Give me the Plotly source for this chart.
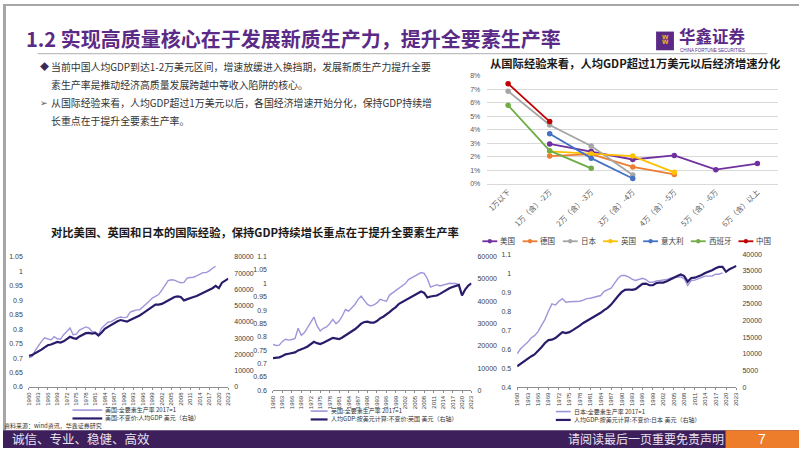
import plotly.graph_objects as go

W, H = 802, 451


def px(x):
    return x / W


def py(y):
    return 1 - y / H


# ---------------- data: top-right chart ----------------
bands = ["1万以下", "1万（含）-2万", "2万（含）-3万", "3万（含）-4万",
         "4万（含）-5万", "5万（含）-6万", "6万（含）以上"]
growth_us = [None, 0.0295, 0.024, 0.018, 0.021, 0.0105, 0.015]
growth_de = [None, 0.0205, 0.022, 0.0125, 0.007, None, None]
growth_jp = [0.0685, 0.0435, 0.028, 0.0065, None, None, None]
growth_uk = [None, 0.024, 0.022, 0.0205, 0.0085, None, None]
growth_it = [None, 0.037, 0.019, 0.004, None, None, None]
growth_es = [0.058, 0.0245, 0.0115, None, None, None, None]
growth_cn = [0.074, 0.046, None, None, None, None, None]
country_names = ["美国", "德国", "日本", "英国", "意大利", "西班牙", "中国"]
country_colors = ["#7030A0", "#ED7D31", "#A5A5A5", "#FFC000", "#4472C4", "#70AD47", "#C00000"]

# ---------------- data: bottom charts ----------------
years = list(range(1960, 2024))
year_ticks = years[::3]

us_tfp = [0.701, 0.706, 0.726, 0.743, 0.758, 0.770, 0.766, 0.763, 0.774, 0.767,
          0.765, 0.781, 0.792, 0.804, 0.781, 0.783, 0.797, 0.803, 0.808, 0.804,
          0.792, 0.790, 0.781, 0.804, 0.815, 0.824, 0.826, 0.832, 0.839, 0.842,
          0.840, 0.842, 0.859, 0.863, 0.867, 0.867, 0.876, 0.886, 0.897, 0.908,
          0.914, 0.920, 0.935, 0.954, 0.968, 0.971, 0.970, 0.965, 0.961, 0.962,
          0.977, 0.979, 0.980, 0.985, 0.990, 0.996, 0.996, 1.002, 1.011, 1.018]
us_gdp = [19200, 19600, 20800, 21800, 23000, 24400, 25700, 26100, 27100, 27700,
          27300, 28100, 29500, 30900, 30100, 29700, 31100, 32100, 33100, 33300,
          32900, 33300, 31700, 33500, 35800, 37000, 38200, 39200, 40400, 41200,
          40800, 40200, 41200, 42000, 43200, 44000, 45300, 46700, 48100, 49500,
          50700, 50700, 51100, 52100, 53300, 54500, 55400, 55800, 55400, 53300,
          54100, 54500, 55400, 56000, 57000, 58000, 58600, 59600, 60800, 62200,
          60800, 64200, 65300, 66700]

uk_tfp = [0.772, 0.768, 0.769, 0.783, 0.791, 0.788, 0.790, 0.794, 0.832, 0.806,
          0.816, 0.837, 0.853, 0.874, 0.841, 0.822, 0.832, 0.837, 0.849, 0.865,
          0.849, 0.859, 0.878, 0.902, 0.896, 0.909, 0.921, 0.940, 0.952, 0.936,
          0.921, 0.915, 0.919, 0.927, 0.940, 0.936, 0.933, 0.956, 0.964, 0.974,
          0.983, 0.991, 0.999, 1.014, 1.020, 1.025, 1.032, 1.040, 1.037, 1.017,
          0.986, 0.991, 0.995, 0.990, 0.994, 0.998, 1.000, 0.999, 0.999, 0.995]
uk_gdp = [14500, 14670, 14810, 15410, 16150, 16440, 16590, 17040, 17930, 18370,
          18960, 19700, 20590, 21780, 21180, 20740, 21330, 21930, 22810, 23550,
          23110, 22960, 23700, 24590, 25330, 26220, 27400, 28590, 29920, 30660,
          30810, 30370, 30370, 31110, 32290, 33030, 33920, 35110, 36290, 37330,
          38810, 39550, 40290, 41330, 42070, 42810, 43550, 44290, 43700, 41630,
          42070, 42370, 42520, 43260, 44150, 45030, 45770, 46370, 46960, 47250,
          42520, 45180, 46960, 48000]

jp_tfp = [0.576, 0.602, 0.619, 0.636, 0.659, 0.671, 0.692, 0.723, 0.757, 0.801,
          0.838, 0.832, 0.852, 0.866, 0.847, 0.849, 0.851, 0.852, 0.852, 0.858,
          0.866, 0.868, 0.873, 0.877, 0.882, 0.904, 0.913, 0.921, 0.947, 0.973,
          0.987, 0.987, 0.980, 0.968, 0.961, 0.965, 0.973, 0.966, 0.952, 0.952,
          0.959, 0.961, 0.963, 0.966, 0.973, 0.978, 0.978, 0.980, 0.970, 0.935,
          0.961, 0.963, 0.970, 0.978, 0.984, 0.984, 0.985, 0.994, 0.994, 1.001]
jp_gdp = [6300, 7090, 7770, 8560, 9250, 9840, 10830, 12010, 13290, 14180,
          14280, 14770, 15660, 16540, 16250, 16540, 17140, 17730, 18510, 19300,
          19890, 20490, 21080, 21670, 22360, 23150, 23830, 24820, 26200, 27380,
          28560, 29260, 29350, 29260, 29450, 30140, 31030, 31130, 30630, 30630,
          31320, 31420, 31420, 31820, 32410, 32900, 33390, 33880, 33390, 31720,
          32800, 32900, 33200, 33690, 34280, 34670, 35170, 35760, 36150, 36150,
          34670, 35460, 35950, 36450]

legend_us = ["美国:全要素生产率 2017=1", "美国:不变价:人均GDP 美元（右轴）"]
legend_uk = ["英国:全要素生产率 2017=1", "人均GDP:按美元计算:不变价:英国 美元（右轴）"]
legend_jp = ["日本:全要素生产率 2017=1", "人均GDP:按美元计算:不变价:日本 美元（右轴）"]

TFP_COLOR = "#9D96DA"
GDP_COLOR = "#2B1B6B"
PURPLE = "#5B2A86"
CJK = "Noto Sans CJK SC"
NUMF = "Liberation Sans, Noto Sans CJK SC"

fig = go.Figure()

growth_series = [growth_us, growth_de, growth_jp, growth_uk, growth_it, growth_es, growth_cn]
for name, vals, col in zip(country_names, growth_series, country_colors):
    fig.add_trace(go.Scatter(x=bands, y=vals, name=name, mode="lines+markers",
                             line=dict(color=col, width=1.8),
                             marker=dict(size=5.5, color=col),
                             xaxis="x", yaxis="y", showlegend=False))

bottom = [
    (us_tfp, us_gdp, "x2", "y2", "y3"),
    (uk_tfp, uk_gdp, "x3", "y4", "y5"),
    (jp_tfp, jp_gdp, "x4", "y6", "y7"),
]
for tfp, gdp, xa, ya, yb in bottom:
    fig.add_trace(go.Scatter(x=years[:len(tfp)], y=tfp, mode="lines",
                             line=dict(color=TFP_COLOR, width=1.4),
                             xaxis=xa, yaxis=ya, showlegend=False))
    fig.add_trace(go.Scatter(x=years[:len(gdp)], y=gdp, mode="lines",
                             line=dict(color=GDP_COLOR, width=2.2),
                             xaxis=xa, yaxis=yb, showlegend=False))

tickf = dict(family=NUMF, size=7, color="#404040")
yearf = dict(family=NUMF, size=6, color="#404040")


def year_axis(dom, anchor):
    return dict(domain=dom, anchor=anchor, range=[1960, 2023], tickmode="array",
                tickvals=year_ticks, tickangle=-90, tickfont=yearf,
                showline=True, linecolor="#8C8C8C", linewidth=1,
                ticks="outside", ticklen=2, tickcolor="#8C8C8C",
                showgrid=False, zeroline=False, fixedrange=True)


def left_axis(dom, anchor, rng, dt):
    return dict(domain=dom, anchor=anchor, range=rng, dtick=dt, tick0=rng[0],
                tickfont=tickf, showgrid=False, zeroline=False, showline=False,
                ticklabelstandoff=5)


def right_axis(over, anchor, rng, dt):
    return dict(overlaying=over, anchor=anchor, side="right", range=rng, dtick=dt,
                tickformat="d", tickfont=tickf, showgrid=False, zeroline=False,
                showline=False, ticklabelstandoff=5)


layout = dict(
    width=W, height=H, autosize=False,
    margin=dict(l=0, r=0, t=0, b=0),
    paper_bgcolor="white", plot_bgcolor="white",
    showlegend=False,
    xaxis=dict(domain=[px(488), px(781)], anchor="y", type="category",
               range=[-0.5, 6.5], tickangle=-45,
               tickfont=dict(family=CJK, size=7.5, color="#595959"),
               showline=True, linecolor="#D9D9D9", showgrid=False, ticks=""),
    yaxis=dict(domain=[py(182.7), py(72.7)], anchor="x", range=[0, 0.08],
               dtick=0.01, tickformat=".0%",
               tickfont=dict(family=NUMF, size=7, color="#595959"),
               gridcolor="#D9D9D9", gridwidth=1, zeroline=False, showline=False,
               ticklabelstandoff=6),
    xaxis2=year_axis([px(26), px(227)], "y2"),
    yaxis2=left_axis([py(389), py(257)], "x2", [0.6, 1.05], 0.05),
    yaxis3=right_axis("y2", "x2", [0, 80000], 10000),
    xaxis3=year_axis([px(272), px(472)], "y4"),
    yaxis4=left_axis([py(392.5), py(256.5)], "x3", [0.6, 1.1], 0.05),
    yaxis5=right_axis("y4", "x3", [0, 60000], 10000),
    xaxis4=year_axis([px(518), px(739)], "y6"),
    yaxis6=left_axis([py(389.3), py(254)], "x4", [0.4, 1.1], 0.1),
    yaxis7=right_axis("y6", "x4", [0, 40000], 5000),
)
fig.update_layout(**layout)

shapes = []
annots = []


def text(x, y, s, size, color="#333333", family=CJK, xanchor="left", yanchor="middle"):
    annots.append(dict(x=px(x), y=py(y), xref="paper", yref="paper", text=s,
                       showarrow=False, xanchor=xanchor, yanchor=yanchor,
                       align=xanchor if xanchor != "center" else "center",
                       borderpad=0,
                       font=dict(family=family, size=size, color=color)))


def rect(x0, y0, x1, y1, fill, line_w=0, line_c=None):
    shapes.append(dict(type="rect", xref="paper", yref="paper",
                       x0=px(x0), x1=px(x1), y0=py(y1), y1=py(y0),
                       fillcolor=fill, line=dict(width=line_w, color=line_c or fill),
                       layer="above"))


def hline(x0, x1, y, color, width):
    shapes.append(dict(type="line", xref="paper", yref="paper",
                       x0=px(x0), x1=px(x1), y0=py(y), y1=py(y),
                       line=dict(color=color, width=width), layer="above"))


# page frame
shapes.append(dict(type="line", xref="paper", yref="paper", x0=px(1.5), x1=px(1.5),
                   y0=py(433), y1=py(0), line=dict(color="#A6A6A6", width=3)))
hline(0, 802, 1, "#A6A6A6", 2)

# header
text(22, 35, "<b>1.2 实现高质量核心在于发展新质生产力，提升全要素生产率</b>", 20, PURPLE)
rect(658, 28, 676, 47, PURPLE)
text(667, 37, "<b>ʬ</b>", 12, "#F2B233", NUMF, xanchor="center")
text(680, 33, "<b>华鑫证券</b>", 16.5, PURPLE)
text(681, 47.5, "CHINA FORTUNE SECURITIES", 4.5, PURPLE, NUMF)
hline(35, 770, 50.5, "#BFBFBF", 1.2)

# bullet text
text(36, 63.5, "◆", 9, "#3A2A55")
text(47, 63.5, "当前中国人均GDP到达1-2万美元区间，增速放缓进入换挡期，发展新质生产力提升全要", 9.9)
text(47, 82, "素生产率是推动经济高质量发展跨越中等收入陷阱的核心。", 9.9)
text(36, 100.5, "➢", 9, "#555555")
text(47, 100.5, "从国际经验来看，人均GDP超过1万美元以后，各国经济增速开始分化，保持GDP持续增", 9.9)
text(47, 119, "长重点在于提升全要素生产率。", 9.9)

# chart headings
text(490, 59.5, "<b>从国际经验来看，人均GDP超过1万美元以后经济增速分化</b>", 11.3, "#1A1A1A")
text(47, 231.5, "<b>对比美国、英国和日本的国际经验，保持GDP持续增长重点在于提升全要素生产率</b>", 11.3, "#1A1A1A")

# top-right legend
cur = 483.0
for name, col in zip(country_names, country_colors):
    hline(cur, cur + 15, 241, col, 1.8)
    shapes.append(dict(type="circle", xref="paper", yref="paper",
                       x0=px(cur + 5.3), x1=px(cur + 9.7), y0=py(243.2), y1=py(238.8),
                       fillcolor=col, line=dict(width=0), layer="above"))
    text(cur + 17, 240.5, name, 7.5, "#404040")
    cur += 17 + len(name) * 7.5 + 8.5

# bottom legends
for (labels, sx0, sx1, ly) in [(legend_us, 70, 100, 412.5), (legend_uk, 310, 327, 413.5),
                               (legend_jp, 557, 572, 414)]:
    hline(sx0, sx1, ly, TFP_COLOR, 1.6)
    text(sx1 + 2, ly - 0.5, labels[0], 6, "#333333")
    hline(sx0, sx1, ly + 8.5, GDP_COLOR, 2.2)
    text(sx1 + 2, ly + 8, labels[1], 6, "#333333")

text(0, 428, "资料来源：wind资讯，华鑫证券研究", 6, "#333333")

# footer
rect(0, 433, 802, 451, "#3D1F5C")
rect(728, 433, 802, 451, "#EE7D2B")
text(8, 441.5, "诚信、专业、稳健、高效", 12.5, "#E8E2F0")
text(568, 441.5, "请阅读最后一页重要免责声明", 12, "#E8E2F0")
text(765, 441.5, "7", 14, "white", NUMF, xanchor="center")

fig.update_layout(shapes=shapes, annotations=annots)
fig.write_html("out.html", config={"displayModeBar": False},
               post_script="document.body.style.margin='0';document.body.style.overflow='hidden';")
